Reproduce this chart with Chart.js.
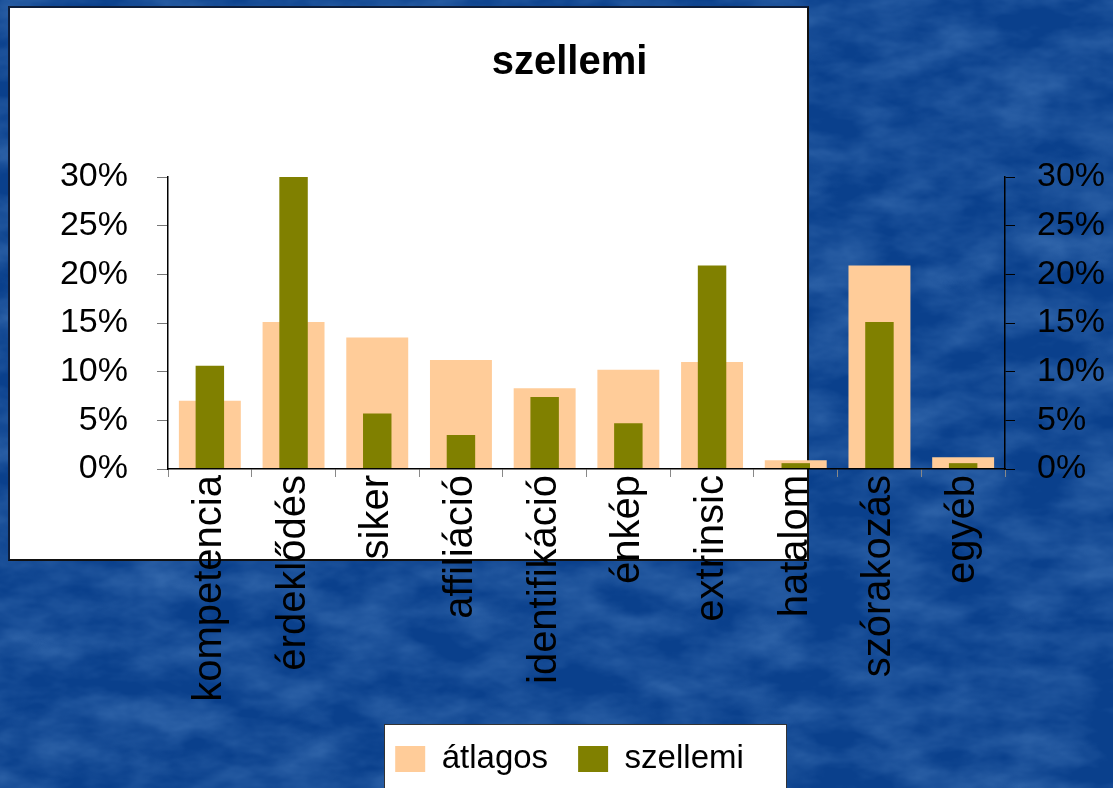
<!DOCTYPE html>
<html>
<head>
<meta charset="utf-8">
<script src="https://cdn.jsdelivr.net/npm/chart.js@4.4.1/dist/chart.umd.min.js"></script>
<style>
  html, body { margin:0; padding:0; width:1113px; height:788px; overflow:hidden; }
  body { background:#0b4390; }
  #tex { position:absolute; left:0; top:0; width:1113px; height:788px; }
  #box1 { position:absolute; left:8px; top:6px; width:797px; height:551px; background:#fff;
          border-left:2px solid #0d1d3a; border-top:2px solid #0d1d3a; border-right:2px solid #111; border-bottom:2px solid #111; }
  #box2 { position:absolute; left:384px; top:724px; width:401px; height:70px; background:#fff;
          border-left:1px solid #333; border-top:1px solid #333; border-right:1px solid #333; }
  #wrap { position:absolute; left:0; top:0; width:1113px; height:788px; }
</style>
</head>
<body>
<svg id="tex" xmlns="http://www.w3.org/2000/svg" width="1113" height="788">
  <filter id="n" x="0" y="0" width="100%" height="100%">
    <feTurbulence type="fractalNoise" baseFrequency="0.015 0.03" numOctaves="4" seed="11"/>
    <feColorMatrix type="matrix" values="0 0 0 0 0.2  0 0 0 0 0.42  0 0 0 0 0.78  1.2 0 0 0 -0.35"/>
  </filter>
  <rect width="1113" height="788" fill="#0a408c"/>
  <rect width="1113" height="788" filter="url(#n)" opacity="0.45"/>
</svg>
<div id="box1"></div>
<div id="box2"></div>
<div id="wrap"><canvas id="c" width="1113" height="788"></canvas></div>
<script>
const categories = ['kompetencia','érdeklődés','siker','affiliáció','identifikáció','énkép','extrinsic','hatalom','szórakozás','egyéb'];
const atlagos  = [7.0, 15.1, 13.5, 11.2, 8.3, 10.2, 11.0, 0.9, 20.9, 1.2];
const szellemi = [10.6, 30.0, 5.7, 3.5, 7.4, 4.7, 20.9, 0.6, 15.1, 0.6];
const yTicks = [0, 5, 10, 15, 20, 25, 30];
const seriesNames = ['átlagos', 'szellemi'];
const titleText = 'szellemi';

const FONT = "'Liberation Sans', Arial, sans-serif";

new Chart(document.getElementById('c'), {
  type: 'bar',
  data: {
    labels: categories,
    datasets: [
      { label: seriesNames[0], data: atlagos, backgroundColor: '#FFCC99', borderWidth: 0,
        barPercentage: 0.74, categoryPercentage: 1, grouped: false, order: 2, yAxisID: 'y' },
      { label: seriesNames[1], data: szellemi, backgroundColor: '#808000', borderWidth: 0,
        barPercentage: 0.34, categoryPercentage: 1, grouped: false, order: 1, yAxisID: 'y' }
    ]
  },
  options: {
    responsive: false,
    animation: false,
    devicePixelRatio: 1,
    layout: { padding: { left: 26, right: 0, top: 0, bottom: 2.5 } },
    plugins: {
      tooltip: { enabled: false },
      title: {
        display: true, text: titleText, color: '#000',
        font: { family: FONT, size: 40, weight: 'bold', lineHeight: 1.2 },
        padding: { top: 39, bottom: 90 }
      },
      legend: {
        display: true, position: 'bottom',
        labels: {
          color: '#000', boxWidth: 30, boxHeight: 26, padding: 30,
          font: { family: FONT, size: 33 },
          sort: (a, b) => a.datasetIndex - b.datasetIndex
        }
      }
    },
    scales: {
      x: {
        type: 'category',
        offset: true,
        grid: { display: true, offset: true, drawOnChartArea: false, drawTicks: true, tickLength: 8, color: '#888', lineWidth: 1 },
        border: { display: true, color: '#000', width: 1.5, z: 1 },
        ticks: { z: 2, autoSkip: false, minRotation: 90, maxRotation: 90, padding: -2, color: '#000',
                 font: { family: FONT, size: 40 } },
        afterFit: (s) => { s.height = 243.5; },
        afterUpdate: (s) => { s._computeLabelArea = () => undefined; }
      },
      y: {
        position: 'left', min: 0, max: 30,
        afterBuildTicks: (s) => { s.ticks = yTicks.map(v => ({ value: v })); },
        grid: { drawOnChartArea: false, drawTicks: true, tickLength: 11, color: '#777' },
        border: { display: true, color: '#000', width: 1.5 },
        ticks: { padding: 29, color: '#000', font: { family: FONT, size: 34 }, callback: (v) => v + '%' },
        afterFit: (s) => { s.width = 142; }
      },
      y2: {
        position: 'right', min: 0, max: 30,
        afterBuildTicks: (s) => { s.ticks = yTicks.map(v => ({ value: v })); },
        grid: { drawOnChartArea: false, drawTicks: true, tickLength: 10, color: '#000' },
        border: { display: true, color: '#000', width: 1.5 },
        ticks: { padding: 22, color: '#000', font: { family: FONT, size: 34 }, callback: (v) => v + '%' },
        afterFit: (s) => { s.width = 108; }
      }
    }
  }
});
</script>
</body>
</html>
